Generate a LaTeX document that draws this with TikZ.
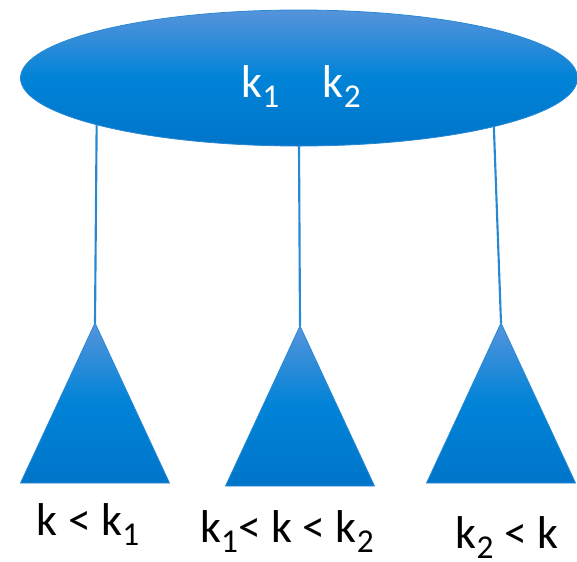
\documentclass[tikz,border=0pt]{standalone}
\usepackage{fontspec}
\setmainfont{Carlito}
\usepackage{tikz}
\usetikzlibrary{shapes.geometric}
\definecolor{keytop}{RGB}{86,148,219}
\definecolor{keymid}{RGB}{0,131,215}
\definecolor{keybot}{RGB}{0,117,202}
\definecolor{keyline}{RGB}{40,136,212}
\newcommand{\lo}[1]{\raisebox{-7.5pt}{\fontsize{25}{29}\selectfont #1}}

\begin{document}
\begin{tikzpicture}[x=0.75pt, y=-0.75pt,
  keynode/.style={ellipse, draw=keyline, line width=0.6pt, top color=keytop, bottom color=keybot, middle color=keymid,
    minimum width=417.75pt, minimum height=102pt, inner sep=0pt, outer sep=0pt},
  subtree/.style={isosceles triangle, isosceles triangle stretches, shape border rotate=90, draw=keyline, line width=0.6pt,
    top color=keytop, bottom color=keybot, middle color=keymid, minimum width=111.75pt, minimum height=120pt,
    inner sep=0pt, outer sep=0pt, anchor=apex},
  keytext/.style={font=\fontsize{34.5}{40}\selectfont, text=white, anchor=base},
  leaflabel/.style={font=\fontsize{34.5}{40}\selectfont, anchor=base},
  branch/.style={draw=keyline, line width=1.6pt}]
  \useasboundingbox (0,0) rectangle (577,561);
  \node[keynode] (root) at (299,78) {};
  \node[keytext] (keys) at (301,97) {k\lo1\hspace{0.95em}k\lo2};
  \node[subtree] (left) at (95,323) {};
  \node[subtree] (mid) at (300,326) {};
  \node[subtree] (right) at (501,323) {};

  \draw[branch] (root.193.7) -- (left.apex);
  \draw[branch] (root.south) -- (mid.apex);
  \draw[branch] (root.346.4) -- (right.apex);

  \node[leaflabel] (lowlab) at (88,535) {k < k\lo1};
  \node[leaflabel] (midlab) at (287,542) {k\lo1< k < k\lo2};
  \node[leaflabel] (highlab) at (507,548) {k\lo2 < k};
\end{tikzpicture}
\end{document}
